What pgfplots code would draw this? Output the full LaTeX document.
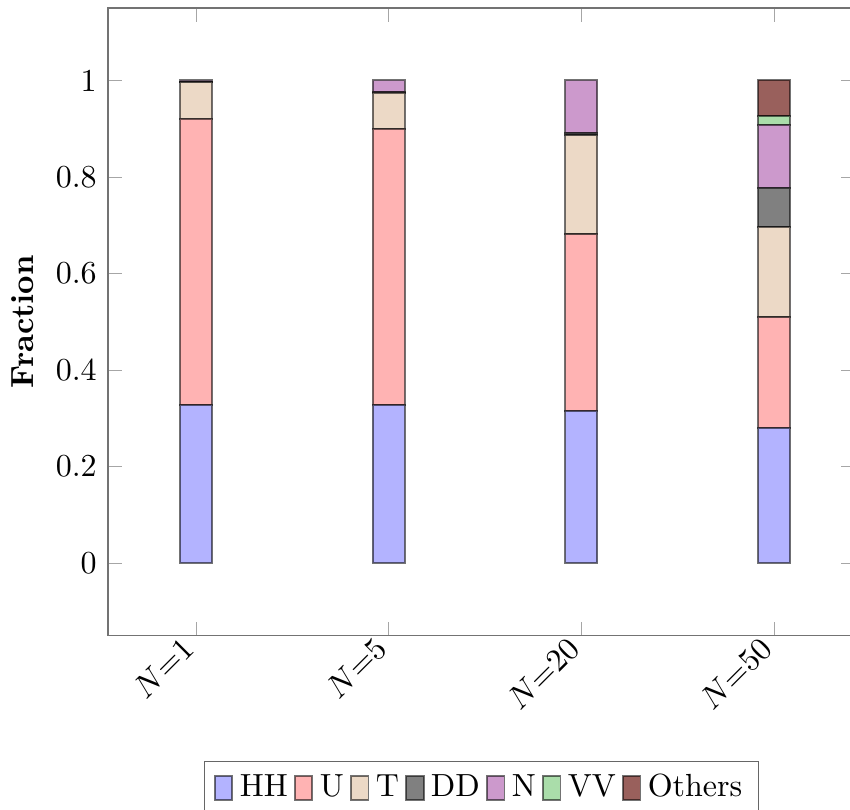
\documentclass[border=0pt]{standalone}
\usepackage{pgfplots}
\pgfplotsset{compat=1.18}
\definecolor{cHH}{RGB}{179,179,255}
\definecolor{cU}{RGB}{255,179,179}
\definecolor{cT}{RGB}{236,217,198}
\definecolor{cDD}{RGB}{128,128,128}
\definecolor{cN}{RGB}{204,153,204}
\definecolor{cVV}{RGB}{170,221,170}
\definecolor{cO}{RGB}{153,96,92}
\begin{document}
\begin{tikzpicture}
\begin{axis}[name=ax,
  scale only axis, width=233.4pt, height=196pt,
  ybar stacked, bar width=10pt,
  xmin=-0.457, xmax=3.42, ymin=-0.15, ymax=1.15,
  xtick={0,1,2,3},
  xticklabels={$N{=}1$,$N{=}5$,$N{=}20$,$N{=}50$},
  x tick label style={rotate=45, anchor=east},
  ytick={0,0.2,0.4,0.6,0.8,1},
  yticklabels={0,0.2,0.4,0.6,0.8,1},
  ylabel={\textbf{Fraction}},
  axis line style={black!55},
  tick style={black!35},
  every axis plot/.append style={draw=black, draw opacity=0.55, line width=0.6pt},
  legend image code/.code={\draw[#1] (0pt,-3.7pt) rectangle (5.4pt,3.7pt);},
  legend style={at={(0.5,-0.2)}, anchor=north, legend columns=-1, draw=black!60,
    /tikz/every even column/.append style={column sep=0pt}},
]
\addplot[fill=cHH] coordinates {(0,0.327) (1,0.327) (2,0.315) (3,0.280)};
\addplot[fill=cU] coordinates {(0,0.593) (1,0.572) (2,0.366) (3,0.229)};
\addplot[fill=cT] coordinates {(0,0.076) (1,0.075) (2,0.205) (3,0.187)};
\addplot[fill=cDD] coordinates {(0,0.001) (1,0.001) (2,0.005) (3,0.081)};
\addplot[fill=cN] coordinates {(0,0.003) (1,0.025) (2,0.109) (3,0.131)};
\addplot[fill=cVV] coordinates {(0,0) (1,0) (2,0) (3,0.018)};
\addplot[fill=cO] coordinates {(0,0) (1,0) (2,0) (3,0.074)};
\legend{HH,U,T,DD,N,VV,Others}
\end{axis}
\pgfresetboundingbox
\path ([xshift=-33.75pt,yshift=2.5pt]ax.north west) rectangle ++(265.6pt,-252.8pt);
\end{tikzpicture}
\end{document}
